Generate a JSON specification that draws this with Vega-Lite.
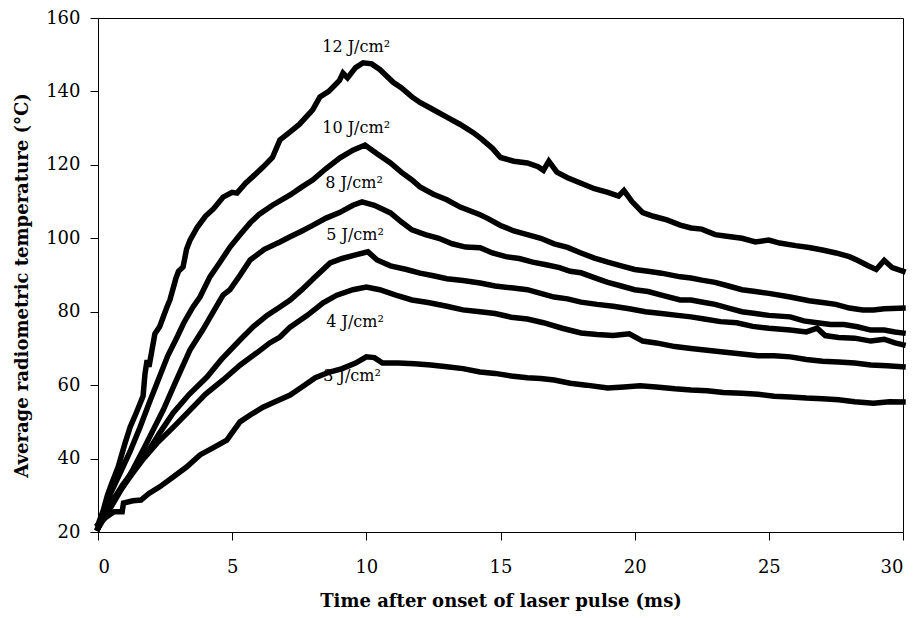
{
  "$schema": "https://vega.github.io/schema/vega-lite/v6.json",
  "width": 805,
  "height": 514,
  "autosize": {"type": "none"},
  "padding": {"left": 98, "top": 18, "right": 14, "bottom": 86},
  "background": "white",
  "config": {
    "view": {"stroke": "black", "strokeWidth": 1},
    "axis": {
      "grid": false,
      "domainColor": "black",
      "tickColor": "black",
      "tickSize": 8,
      "labelFont": "DejaVu Serif",
      "labelFontSize": 18,
      "labelColor": "black",
      "titleFont": "DejaVu Serif",
      "titleFontSize": 18,
      "titleFontWeight": "bold",
      "titleColor": "black"
    }
  },
  "datasets": {
    "curves": [
      {"s":"12","t":0,"T":22},{"s":"12","t":0.2,"T":26},{"s":"12","t":0.35,"T":30},{"s":"12","t":0.5,"T":33},{"s":"12","t":0.75,"T":37.7},{"s":"12","t":1.0,"T":44},{"s":"12","t":1.2,"T":48.6},{"s":"12","t":1.4,"T":52},{"s":"12","t":1.68,"T":57},{"s":"12","t":1.75,"T":63},{"s":"12","t":1.83,"T":66.8},{"s":"12","t":1.9,"T":65},{"s":"12","t":2.12,"T":74},{"s":"12","t":2.3,"T":76},{"s":"12","t":2.57,"T":81.3},{"s":"12","t":2.68,"T":83.2},{"s":"12","t":2.9,"T":89},{"s":"12","t":3.0,"T":91},{"s":"12","t":3.17,"T":92.2},{"s":"12","t":3.3,"T":97},{"s":"12","t":3.43,"T":99.5},{"s":"12","t":3.7,"T":103},{"s":"12","t":4.0,"T":106},{"s":"12","t":4.3,"T":108},{"s":"12","t":4.66,"T":111.2},{"s":"12","t":5.0,"T":112.5},{"s":"12","t":5.18,"T":112.3},{"s":"12","t":5.5,"T":115},{"s":"12","t":5.8,"T":117},{"s":"12","t":6.15,"T":119.4},{"s":"12","t":6.5,"T":122},{"s":"12","t":6.78,"T":126.8},{"s":"12","t":7.16,"T":129},{"s":"12","t":7.5,"T":131},{"s":"12","t":8.0,"T":135},{"s":"12","t":8.27,"T":138.5},{"s":"12","t":8.6,"T":140},{"s":"12","t":9.0,"T":143},{"s":"12","t":9.13,"T":145},{"s":"12","t":9.3,"T":143.7},{"s":"12","t":9.6,"T":146.5},{"s":"12","t":9.88,"T":147.8},{"s":"12","t":10.2,"T":147.5},{"s":"12","t":10.5,"T":146},{"s":"12","t":11,"T":142.5},{"s":"12","t":11.3,"T":141},{"s":"12","t":11.7,"T":138.5},{"s":"12","t":12,"T":137},{"s":"12","t":12.5,"T":135},{"s":"12","t":13,"T":133},{"s":"12","t":13.5,"T":131},{"s":"12","t":14,"T":128.7},{"s":"12","t":14.3,"T":127},{"s":"12","t":14.7,"T":124.5},{"s":"12","t":15,"T":122},{"s":"12","t":15.5,"T":121},{"s":"12","t":16,"T":120.5},{"s":"12","t":16.4,"T":119.5},{"s":"12","t":16.6,"T":118.5},{"s":"12","t":16.8,"T":121},{"s":"12","t":17.1,"T":118},{"s":"12","t":17.5,"T":116.5},{"s":"12","t":18,"T":115},{"s":"12","t":18.5,"T":113.5},{"s":"12","t":19,"T":112.5},{"s":"12","t":19.4,"T":111.5},{"s":"12","t":19.6,"T":113},{"s":"12","t":19.9,"T":110},{"s":"12","t":20.3,"T":107},{"s":"12","t":20.7,"T":106},{"s":"12","t":21.2,"T":105},{"s":"12","t":21.7,"T":103.6},{"s":"12","t":22.1,"T":102.8},{"s":"12","t":22.5,"T":102.5},{"s":"12","t":23,"T":101},{"s":"12","t":23.5,"T":100.5},{"s":"12","t":24,"T":100},{"s":"12","t":24.5,"T":99},{"s":"12","t":25,"T":99.5},{"s":"12","t":25.4,"T":98.7},{"s":"12","t":26,"T":98},{"s":"12","t":26.5,"T":97.5},{"s":"12","t":27,"T":96.8},{"s":"12","t":27.5,"T":96},{"s":"12","t":28,"T":95},{"s":"12","t":28.3,"T":94},{"s":"12","t":28.7,"T":92.5},{"s":"12","t":29,"T":91.5},{"s":"12","t":29.3,"T":94},{"s":"12","t":29.6,"T":92},{"s":"12","t":30,"T":91},

      {"s":"10","t":0,"T":21},{"s":"10","t":0.3,"T":27},{"s":"10","t":0.5,"T":31},{"s":"10","t":0.82,"T":36},{"s":"10","t":1.2,"T":42},{"s":"10","t":1.57,"T":48.6},{"s":"10","t":1.9,"T":55},{"s":"10","t":2.2,"T":60.6},{"s":"10","t":2.6,"T":68},{"s":"10","t":2.94,"T":73},{"s":"10","t":3.2,"T":77},{"s":"10","t":3.54,"T":81.3},{"s":"10","t":3.8,"T":84},{"s":"10","t":4.17,"T":89.5},{"s":"10","t":4.5,"T":93},{"s":"10","t":4.92,"T":97.6},{"s":"10","t":5.3,"T":101},{"s":"10","t":5.67,"T":104.2},{"s":"10","t":6.0,"T":106.5},{"s":"10","t":6.5,"T":109},{"s":"10","t":7.16,"T":111.8},{"s":"10","t":7.6,"T":114},{"s":"10","t":8.01,"T":115.9},{"s":"10","t":8.5,"T":119},{"s":"10","t":9.02,"T":121.9},{"s":"10","t":9.5,"T":124},{"s":"10","t":9.95,"T":125.4},{"s":"10","t":10.4,"T":123},{"s":"10","t":10.9,"T":120.5},{"s":"10","t":11.3,"T":118},{"s":"10","t":11.7,"T":115.9},{"s":"10","t":12,"T":114},{"s":"10","t":12.5,"T":112},{"s":"10","t":13,"T":110.5},{"s":"10","t":13.5,"T":108.5},{"s":"10","t":14.24,"T":106.4},{"s":"10","t":14.5,"T":105.5},{"s":"10","t":15,"T":103.5},{"s":"10","t":15.5,"T":102},{"s":"10","t":16,"T":101},{"s":"10","t":16.5,"T":100},{"s":"10","t":17,"T":98.5},{"s":"10","t":17.5,"T":97.5},{"s":"10","t":18,"T":96},{"s":"10","t":18.5,"T":94.6},{"s":"10","t":19,"T":93.5},{"s":"10","t":19.5,"T":92.5},{"s":"10","t":20,"T":91.5},{"s":"10","t":20.5,"T":91},{"s":"10","t":21,"T":90.5},{"s":"10","t":21.7,"T":89.5},{"s":"10","t":22.1,"T":89.2},{"s":"10","t":22.5,"T":88.6},{"s":"10","t":23,"T":88},{"s":"10","t":23.5,"T":87},{"s":"10","t":24,"T":86},{"s":"10","t":24.5,"T":85.5},{"s":"10","t":25,"T":85},{"s":"10","t":25.8,"T":84},{"s":"10","t":26.5,"T":83},{"s":"10","t":27,"T":82.5},{"s":"10","t":27.5,"T":82},{"s":"10","t":28,"T":81},{"s":"10","t":28.5,"T":80.5},{"s":"10","t":28.9,"T":80.5},{"s":"10","t":29.3,"T":80.8},{"s":"10","t":30,"T":81},

      {"s":"8","t":0,"T":21},{"s":"8","t":0.5,"T":28},{"s":"8","t":0.93,"T":32.3},{"s":"8","t":1.3,"T":37},{"s":"8","t":1.68,"T":42.3},{"s":"8","t":2.0,"T":47},{"s":"8","t":2.43,"T":53.2},{"s":"8","t":2.9,"T":61},{"s":"8","t":3.43,"T":69.6},{"s":"8","t":3.9,"T":75},{"s":"8","t":4.3,"T":80},{"s":"8","t":4.66,"T":84.5},{"s":"8","t":4.92,"T":86},{"s":"8","t":5.3,"T":90},{"s":"8","t":5.67,"T":94.1},{"s":"8","t":6.2,"T":97},{"s":"8","t":6.78,"T":99},{"s":"8","t":7.16,"T":100.4},{"s":"8","t":7.6,"T":102},{"s":"8","t":8.0,"T":103.5},{"s":"8","t":8.5,"T":105.5},{"s":"8","t":9.0,"T":107},{"s":"8","t":9.5,"T":109},{"s":"8","t":9.84,"T":109.9},{"s":"8","t":10.3,"T":109},{"s":"8","t":10.9,"T":106.9},{"s":"8","t":11.3,"T":104.5},{"s":"8","t":11.7,"T":102.3},{"s":"8","t":12.2,"T":101},{"s":"8","t":12.7,"T":100},{"s":"8","t":13.2,"T":98.5},{"s":"8","t":13.7,"T":97.6},{"s":"8","t":14.24,"T":97.4},{"s":"8","t":14.7,"T":96},{"s":"8","t":15.2,"T":95},{"s":"8","t":15.7,"T":94.5},{"s":"8","t":16.2,"T":93.5},{"s":"8","t":16.7,"T":92.8},{"s":"8","t":17.2,"T":92},{"s":"8","t":17.6,"T":91},{"s":"8","t":18,"T":90.6},{"s":"8","t":18.6,"T":89},{"s":"8","t":19,"T":88},{"s":"8","t":19.5,"T":87},{"s":"8","t":20,"T":86},{"s":"8","t":20.5,"T":85.5},{"s":"8","t":21,"T":84.5},{"s":"8","t":21.7,"T":83.2},{"s":"8","t":22.1,"T":83.2},{"s":"8","t":22.6,"T":82.5},{"s":"8","t":23,"T":82},{"s":"8","t":23.5,"T":81},{"s":"8","t":24,"T":80},{"s":"8","t":24.5,"T":79.5},{"s":"8","t":25,"T":79},{"s":"8","t":25.8,"T":78.6},{"s":"8","t":26.3,"T":77.5},{"s":"8","t":26.8,"T":77},{"s":"8","t":27.3,"T":76.5},{"s":"8","t":27.8,"T":76.5},{"s":"8","t":28.3,"T":75.9},{"s":"8","t":28.8,"T":75},{"s":"8","t":29.3,"T":75},{"s":"8","t":29.7,"T":74.5},{"s":"8","t":30,"T":74.2},

      {"s":"5","t":0,"T":21},{"s":"5","t":0.5,"T":28},{"s":"5","t":0.93,"T":33},{"s":"5","t":1.3,"T":36.5},{"s":"5","t":1.83,"T":41.5},{"s":"5","t":2.3,"T":47},{"s":"5","t":2.8,"T":52.4},{"s":"5","t":3.4,"T":57.5},{"s":"5","t":4.06,"T":62.2},{"s":"5","t":4.6,"T":67},{"s":"5","t":5.29,"T":72.3},{"s":"5","t":5.8,"T":76},{"s":"5","t":6.3,"T":79},{"s":"5","t":6.78,"T":81.3},{"s":"5","t":7.16,"T":83.2},{"s":"5","t":7.6,"T":86},{"s":"5","t":8.1,"T":89.5},{"s":"5","t":8.65,"T":93.3},{"s":"5","t":9.1,"T":94.5},{"s":"5","t":9.6,"T":95.5},{"s":"5","t":10.06,"T":96.3},{"s":"5","t":10.4,"T":94.1},{"s":"5","t":10.9,"T":92.5},{"s":"5","t":11.5,"T":91.5},{"s":"5","t":12,"T":90.5},{"s":"5","t":12.5,"T":89.8},{"s":"5","t":13,"T":89},{"s":"5","t":13.6,"T":88.5},{"s":"5","t":14.24,"T":87.8},{"s":"5","t":14.8,"T":87},{"s":"5","t":15.4,"T":86.5},{"s":"5","t":16,"T":86},{"s":"5","t":16.5,"T":85},{"s":"5","t":17,"T":84},{"s":"5","t":17.5,"T":83.5},{"s":"5","t":18,"T":82.6},{"s":"5","t":18.6,"T":82},{"s":"5","t":19.2,"T":81.5},{"s":"5","t":19.8,"T":80.8},{"s":"5","t":20.4,"T":80},{"s":"5","t":21,"T":79.5},{"s":"5","t":21.6,"T":79},{"s":"5","t":22.1,"T":78.6},{"s":"5","t":22.6,"T":78},{"s":"5","t":23.2,"T":77.3},{"s":"5","t":23.8,"T":77},{"s":"5","t":24.4,"T":76},{"s":"5","t":25,"T":75.5},{"s":"5","t":25.8,"T":75},{"s":"5","t":26.4,"T":74.5},{"s":"5","t":26.8,"T":75.5},{"s":"5","t":27.1,"T":73.5},{"s":"5","t":27.6,"T":73},{"s":"5","t":28.2,"T":72.8},{"s":"5","t":28.8,"T":72},{"s":"5","t":29.3,"T":72.5},{"s":"5","t":29.7,"T":71.5},{"s":"5","t":30,"T":71},

      {"s":"4","t":0,"T":21},{"s":"4","t":0.5,"T":27},{"s":"4","t":0.9,"T":32},{"s":"4","t":1.3,"T":36.1},{"s":"4","t":1.7,"T":40},{"s":"4","t":2.2,"T":44.2},{"s":"4","t":2.8,"T":48.5},{"s":"4","t":3.43,"T":53.2},{"s":"4","t":4.0,"T":57.5},{"s":"4","t":4.66,"T":61.4},{"s":"4","t":5.3,"T":65.5},{"s":"4","t":5.92,"T":68.8},{"s":"4","t":6.4,"T":71.5},{"s":"4","t":6.78,"T":73.1},{"s":"4","t":7.16,"T":75.8},{"s":"4","t":7.8,"T":79},{"s":"4","t":8.39,"T":82.4},{"s":"4","t":8.9,"T":84.5},{"s":"4","t":9.5,"T":86},{"s":"4","t":10.0,"T":86.7},{"s":"4","t":10.5,"T":86},{"s":"4","t":11.1,"T":84.5},{"s":"4","t":11.7,"T":83.2},{"s":"4","t":12.3,"T":82.5},{"s":"4","t":13,"T":81.5},{"s":"4","t":13.6,"T":80.5},{"s":"4","t":14.24,"T":80},{"s":"4","t":14.8,"T":79.5},{"s":"4","t":15.4,"T":78.5},{"s":"4","t":16,"T":78},{"s":"4","t":16.6,"T":77},{"s":"4","t":17.3,"T":75.5},{"s":"4","t":18,"T":74.2},{"s":"4","t":18.6,"T":73.8},{"s":"4","t":19.2,"T":73.5},{"s":"4","t":19.8,"T":74},{"s":"4","t":20.3,"T":72},{"s":"4","t":20.8,"T":71.5},{"s":"4","t":21.5,"T":70.5},{"s":"4","t":22.1,"T":70},{"s":"4","t":22.7,"T":69.5},{"s":"4","t":23.3,"T":69},{"s":"4","t":24,"T":68.5},{"s":"4","t":24.6,"T":68},{"s":"4","t":25.2,"T":68},{"s":"4","t":25.8,"T":67.7},{"s":"4","t":26.4,"T":67},{"s":"4","t":27,"T":66.5},{"s":"4","t":27.6,"T":66.3},{"s":"4","t":28.2,"T":66},{"s":"4","t":28.8,"T":65.5},{"s":"4","t":29.4,"T":65.3},{"s":"4","t":30,"T":65},

      {"s":"3","t":0,"T":22},{"s":"3","t":0.3,"T":24},{"s":"3","t":0.6,"T":25.5},{"s":"3","t":0.9,"T":25.5},{"s":"3","t":0.95,"T":27.9},{"s":"3","t":1.3,"T":28.5},{"s":"3","t":1.6,"T":28.7},{"s":"3","t":1.9,"T":30.5},{"s":"3","t":2.3,"T":32.3},{"s":"3","t":2.8,"T":35},{"s":"3","t":3.3,"T":37.7},{"s":"3","t":3.8,"T":41},{"s":"3","t":4.3,"T":43},{"s":"3","t":4.8,"T":45},{"s":"3","t":5.29,"T":50},{"s":"3","t":5.7,"T":52},{"s":"3","t":6.15,"T":54},{"s":"3","t":6.6,"T":55.5},{"s":"3","t":7.16,"T":57.3},{"s":"3","t":7.6,"T":59.5},{"s":"3","t":8.1,"T":62},{"s":"3","t":8.6,"T":63.5},{"s":"3","t":9.1,"T":64.5},{"s":"3","t":9.6,"T":66},{"s":"3","t":10.0,"T":67.7},{"s":"3","t":10.3,"T":67.5},{"s":"3","t":10.6,"T":66},{"s":"3","t":11.2,"T":66},{"s":"3","t":11.8,"T":65.8},{"s":"3","t":12.4,"T":65.5},{"s":"3","t":13,"T":65},{"s":"3","t":13.6,"T":64.5},{"s":"3","t":14.24,"T":63.6},{"s":"3","t":14.8,"T":63.2},{"s":"3","t":15.4,"T":62.5},{"s":"3","t":16,"T":62},{"s":"3","t":16.5,"T":61.8},{"s":"3","t":17,"T":61.4},{"s":"3","t":17.6,"T":60.5},{"s":"3","t":18.2,"T":60},{"s":"3","t":19,"T":59.2},{"s":"3","t":19.6,"T":59.5},{"s":"3","t":20.2,"T":59.8},{"s":"3","t":20.8,"T":59.5},{"s":"3","t":21.5,"T":59},{"s":"3","t":22.1,"T":58.7},{"s":"3","t":22.7,"T":58.5},{"s":"3","t":23.3,"T":58},{"s":"3","t":24,"T":57.8},{"s":"3","t":24.6,"T":57.5},{"s":"3","t":25.2,"T":57},{"s":"3","t":25.8,"T":56.8},{"s":"3","t":26.4,"T":56.5},{"s":"3","t":27,"T":56.3},{"s":"3","t":27.6,"T":56},{"s":"3","t":28.2,"T":55.5},{"s":"3","t":28.9,"T":55.1},{"s":"3","t":29.5,"T":55.5},{"s":"3","t":30,"T":55.4}
    ],
    "labels": [
      {"label": "12 J/cm²", "t": 9.62, "T": 150.8},
      {"label": "10 J/cm²", "t": 9.62, "T": 128.7},
      {"label": "8 J/cm²", "t": 9.54, "T": 113.7},
      {"label": "5 J/cm²", "t": 9.58, "T": 99.5},
      {"label": "4 J/cm²", "t": 9.58, "T": 75.8},
      {"label": "3 J/cm²", "t": 9.47, "T": 61}
    ]
  },
  "layer": [
    {
      "data": {"name": "curves"},
      "mark": {"type": "line", "color": "black", "strokeWidth": 5.5, "strokeJoin": "miter", "strokeCap": "square"},
      "encoding": {
        "x": {
          "field": "t", "type": "quantitative",
          "scale": {"domain": [0, 30], "nice": false, "zero": false},
          "axis": {
            "title": "Time after onset of laser pulse (ms)",
            "values": [0, 5, 10, 15, 20, 25, 30],
            "labelPadding": 18,
            "titleY": 74,
            "titleBaseline": "alphabetic"
          }
        },
        "y": {
          "field": "T", "type": "quantitative",
          "scale": {"domain": [20, 160], "nice": false, "zero": false},
          "axis": {
            "title": "Average radiometric temperature (°C)",
            "values": [20, 40, 60, 80, 100, 120, 140, 160],
            "labelPadding": 10,
            "titleAngle": -90,
            "titleX": -76,
            "titleY": 267,
            "titleAlign": "center",
            "titleBaseline": "middle"
          }
        },
        "detail": {"field": "s", "type": "nominal"},
        "order": {"field": "t", "type": "quantitative"}
      }
    },
    {
      "data": {"name": "labels"},
      "mark": {"type": "text", "font": "DejaVu Serif", "fontSize": 16, "color": "black", "align": "center", "baseline": "alphabetic"},
      "encoding": {
        "x": {"field": "t", "type": "quantitative"},
        "y": {"field": "T", "type": "quantitative"},
        "text": {"field": "label", "type": "nominal"}
      }
    }
  ]
}
